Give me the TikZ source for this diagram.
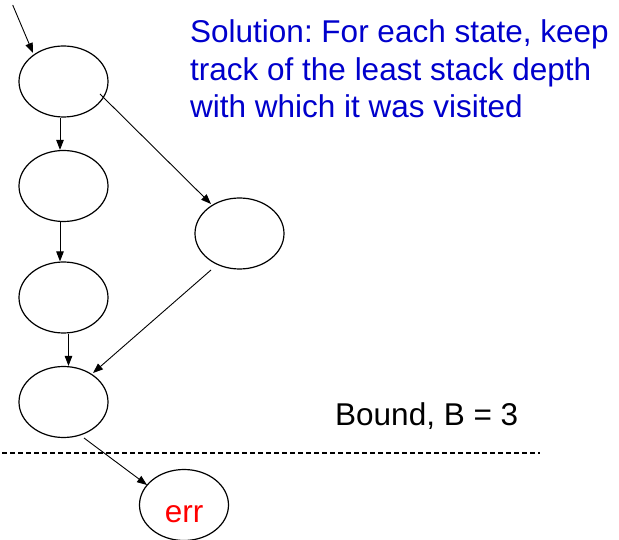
\documentclass[tikz,border=0pt]{standalone}
\usepackage{fontspec}
\setmainfont{Liberation Sans}
\usetikzlibrary{arrows.meta,shapes.geometric}
\frenchspacing

\definecolor{solblue}{RGB}{0,0,204}
\definecolor{errred}{RGB}{255,0,0}

\tikzset{
  state/.style={draw, ellipse, line width=1.2pt, minimum width=89pt,
                minimum height=71pt, inner sep=0pt},
  arr/.style={line width=0.9pt, -{Triangle[length=10pt,width=7.5pt]}},
  bigtext/.style={font=\fontsize{31.5}{37.7}\selectfont, inner sep=0pt}
}

\begin{document}
\begin{tikzpicture}[x=1pt, y=-1pt]
  \useasboundingbox (0,0) rectangle (619,540);

  % states of the search
  \node[state] (n1) at (63.5,81.5) {};
  \node[state] (n2) at (63.5,186) {};
  \node[state] (n4) at (63.5,297.5) {};
  \node[state] (n5) at (63.5,402) {};
  \node[state] (n3) at (239.5,233.5) {};
  \node[state, bigtext, text=errred, text height=34pt, text depth=0pt]
       (err) at (184,505) {err};

  % initial transition
  \coordinate (init) at (12.7,5);
  \draw[arr] (init) -- ([shift={(-30.5,-28.5)}]n1.center);

  % transitions
  \draw[arr] ([xshift=-3.5pt]n1.south) -- ([xshift=-3.5pt]n2.north);
  \draw[arr] ([xshift=-3.5pt]n2.south) -- ([xshift=-3.5pt]n4.north);
  \draw[arr] ([xshift=5pt]n4.south) -- ([xshift=5pt]n5.north);
  \draw[arr] ([shift={(36.5,12.5)}]n1.center) -- ([shift={(-28.5,-29.5)}]n3.center);
  \draw[arr] ([shift={(-28.5,36.5)}]n3.center) -- ([shift={(29.5,-29)}]n5.center);
  \draw[arr] ([shift={(20.5,36)}]n5.center) -- ([shift={(-37,-20)}]err.center);

  % depth bound
  \coordinate (bl) at (2,453);
  \coordinate (br) at (540,453);
  \draw[line width=1.2pt, dash pattern=on 5pt off 3pt] (bl) -- (br);
  \node[bigtext, anchor=base west] (bound) at (335,425) {Bound, B = 3};

  % remark (base anchor sits on the last line)
  \node[bigtext, text=solblue, anchor=base west, align=left] (sol) at (190,118)
    {Solution: For each state, keep\\track of the least stack depth\\with which it was visited};
\end{tikzpicture}
\end{document}
